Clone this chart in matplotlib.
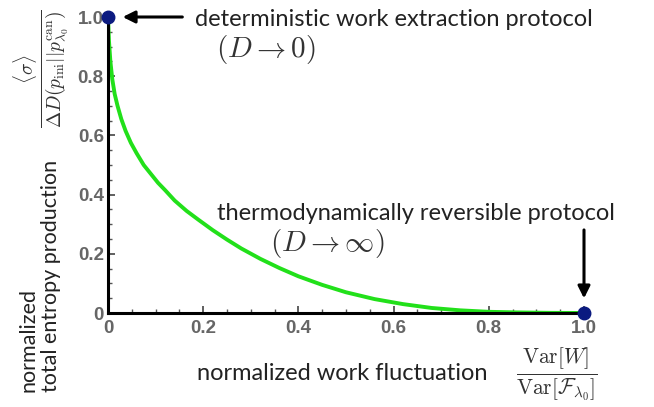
import numpy as np
import matplotlib
matplotlib.use("Agg")
import matplotlib.pyplot as plt
from matplotlib.ticker import MultipleLocator

plt.rcParams["mathtext.fontset"] = "cm"

# curve
work_fluct = [0.0, 0.002, 0.005, 0.009, 0.014, 0.02, 0.028, 0.037, 0.048, 0.06,
              0.075, 0.09, 0.105, 0.12, 0.14, 0.165, 0.19, 0.22, 0.25, 0.28,
              0.32, 0.36, 0.40, 0.45, 0.50, 0.56, 0.62, 0.68, 0.74, 0.80,
              0.86, 0.93, 1.0]
entropy_prod = [1.0, 0.92, 0.85, 0.79, 0.74, 0.70, 0.655, 0.615, 0.575, 0.54,
                0.50, 0.47, 0.44, 0.415, 0.38, 0.345, 0.315, 0.28, 0.248, 0.218,
                0.183, 0.152, 0.124, 0.095, 0.07, 0.047, 0.03, 0.017, 0.009, 0.004,
                0.002, 0.0005, 0.0]
end_x = [0.0, 1.0]
end_y = [1.0, 0.0]
tick_vals = [0, 0.2, 0.4, 0.6, 0.8, 1.0]
tick_labels = ["0", "0.2", "0.4", "0.6", "0.8", "1.0"]

W, H = 654, 407
fig = plt.figure(figsize=(W / 100, H / 100), dpi=100)
ax = fig.add_axes([108 / W, 1 - 313 / H, (584 - 108) / W, (313 - 17) / H])

ax.plot(work_fluct, entropy_prod, color="#22e01a", lw=2.8, solid_capstyle="round")
ax.plot(end_x, end_y, "o", color="#0b1a80", ms=9, clip_on=False, zorder=5)

ax.set_xlim(0, 1)
ax.set_ylim(0, 1)
for side in ("top", "right"):
    ax.spines[side].set_visible(False)
for side in ("left", "bottom"):
    ax.spines[side].set_linewidth(2.2)
    ax.spines[side].set_color("black")

ax.set_xticks(tick_vals)
ax.set_xticklabels(tick_labels)
ax.set_yticks(tick_vals)
ax.set_yticklabels(tick_labels)
ax.xaxis.set_minor_locator(MultipleLocator(0.05))
ax.yaxis.set_minor_locator(MultipleLocator(0.05))
ax.tick_params(which="major", direction="in", length=5, width=1.2, color="#444444",
               labelsize=13.5, labelcolor="#666666", pad=5)
ax.tick_params(axis="y", which="major", pad=3)
ax.tick_params(which="minor", direction="in", length=3, width=1, color="#555555")
for lab in ax.get_xticklabels() + ax.get_yticklabels():
    lab.set_fontfamily("Liberation Sans")
    lab.set_fontweight("bold")

def px(x, y):
    return x / W, 1 - y / H

txt = dict(family="Lato", color="#222222", fontsize=17)
mcol = "#333333"

fig.text(*px(195, 19), "deterministic work extraction protocol", ha="left", va="center", **txt)
fig.text(*px(266, 50), r"$(D \to 0)$", ha="center", va="center", fontsize=21, color=mcol)
fig.text(*px(416, 213), "thermodynamically reversible protocol", ha="center", va="center", **txt)
fig.text(*px(327, 243), r"$(D \to \infty)$", ha="center", va="center", fontsize=21, color=mcol)

fig.text(*px(342, 374), "normalized work fluctuation", ha="center", va="center", **txt)
fig.text(*px(557, 374), r"$\frac{\mathrm{Var}[W]}{\mathrm{Var}[\mathcal{F}_{\lambda_0}]}$",
         ha="center", va="center", fontsize=22, color=mcol)

fig.text(*px(40, 392), "normalized\ntotal entropy production", rotation=90,
         ha="center", va="bottom", multialignment="left", family="Lato",
         color="#222222", fontsize=15.5, linespacing=1.15)
fig.text(*px(42, 69), r"$\frac{\langle\sigma\rangle}{\Delta D(p_{\rm ini}||p^{\rm can}_{\lambda_0})}$",
         rotation=90, ha="center", va="center", fontsize=20, color=mcol)

ax.annotate("", xy=(0.025, 1.0), xytext=(0.162, 1.0), xycoords="data",
            textcoords="data", annotation_clip=False,
            arrowprops=dict(arrowstyle="-|>", color="black", lw=2.2, mutation_scale=18))
ax.annotate("", xy=(1.0, 0.04), xytext=(1.0, 0.29), xycoords="data",
            textcoords="data", annotation_clip=False,
            arrowprops=dict(arrowstyle="-|>", color="black", lw=2.2, mutation_scale=18))

fig.savefig("out.png", dpi=100)
